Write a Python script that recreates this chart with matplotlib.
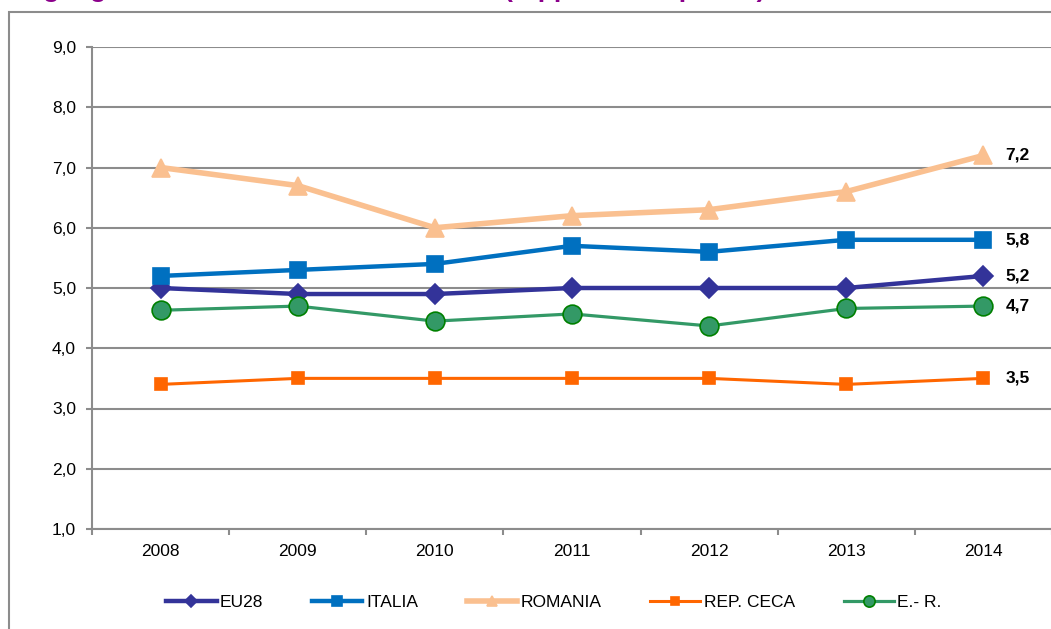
import matplotlib.pyplot as plt
from matplotlib.patches import Rectangle
from matplotlib.ticker import FuncFormatter, FixedLocator

plt.rcParams['font.family'] = ['Liberation Sans', 'DejaVu Sans']

years = ['2008', '2009', '2010', '2011', '2012', '2013', '2014']
eu28 = [5.0, 4.9, 4.9, 5.0, 5.0, 5.0, 5.2]
italia = [5.2, 5.3, 5.4, 5.7, 5.6, 5.8, 5.8]
romania = [7.0, 6.7, 6.0, 6.2, 6.3, 6.6, 7.2]
rep_ceca = [3.4, 3.5, 3.5, 3.5, 3.5, 3.4, 3.5]
emilia_r = [4.63, 4.7, 4.45, 4.57, 4.37, 4.66, 4.7]
end_labels = ['5,2', '5,8', '7,2', '3,5', '4,7']

W, H = 1051, 629
fig = plt.figure(figsize=(W / 100, H / 100), dpi=100)

# outer frame of the chart box (cut at right and bottom)
fig.patches.append(Rectangle((9 / W, -0.2), 1.5, 1.2 - 12 / H,
                             transform=fig.transFigure, fill=False,
                             edgecolor='#8c8c8c', linewidth=1.5, zorder=0))
# title sits above the frame: only its descenders show at the top edge
fig.text(-14 / W, 1 + 3 / H, 'Disuguaglianza del reddito netto', color='#8B008B',
         fontsize=19, fontweight='bold', va='baseline', ha='left')
fig.text(504 / W, 1 + 3 / H, '(rapporto tra quintili)', color='#8B008B',
         fontsize=19, fontweight='bold', va='baseline', ha='left')

ax = fig.add_axes([92 / W, (H - 529) / H, (1052 - 92) / W, (529 - 47) / H])
x = list(range(len(years)))

series = [
    ('EU28', eu28, '#333399', 3.2, 'D', 10, '#333399'),
    ('ITALIA', italia, '#0070C0', 3.2, 's', 11.5, '#0070C0'),
    ('ROMANIA', romania, '#FAC090', 4.0, '^', 13, '#FAC090'),
    ('REP. CECA', rep_ceca, '#FF6600', 2.2, 's', 9, '#FF6600'),
    ('E.- R.', emilia_r, '#339966', 2.3, 'o', 13.5, '#008000'),
]

for (name, vals, col, lw, mk, ms, mec), lab in zip(series, end_labels):
    ax.plot(x, vals, color=col, lw=lw, marker=mk, markersize=ms,
            markerfacecolor=col, markeredgecolor=mec, markeredgewidth=1.2,
            label=name, zorder=3)
    ax.annotate(lab, (x[-1], vals[-1]), xytext=(16, 0), textcoords='offset points',
                va='center', ha='left', fontsize=12.5, fontweight='bold')

ax.set_xlim(-0.5, len(years) - 0.5)
ax.set_ylim(1, 9)
ax.set_yticks(range(1, 10))
ax.yaxis.set_major_formatter(FuncFormatter(lambda v, p: f'{v:.1f}'.replace('.', ',')))
ax.set_xticks(x)
ax.set_xticklabels(years)
ax.xaxis.set_minor_locator(FixedLocator([i - 0.5 for i in range(len(years) + 1)]))
ax.tick_params(axis='x', which='major', length=0, pad=11, labelsize=12.5)
ax.tick_params(axis='x', which='minor', length=4, width=1.5, color='#8c8c8c', direction='out')
ax.tick_params(axis='y', length=4.5, width=1.5, color='#8c8c8c', pad=7, labelsize=12.5)

ax.grid(axis='y', color='#8c8c8c', linewidth=1.5, zorder=0)
ax.set_axisbelow(True)
for side in ['top', 'right']:
    ax.spines[side].set_visible(False)
for side in ['left', 'bottom']:
    ax.spines[side].set_color('#8c8c8c')
    ax.spines[side].set_linewidth(1.5)

fig.legend(loc='center', bbox_to_anchor=(554 / W, 1 - 602 / H), ncol=5,
           frameon=False, fontsize=12.5, handlelength=2.9, handletextpad=0.2,
           columnspacing=2.8, markerscale=0.6)

fig.savefig('out.png', dpi=100)
